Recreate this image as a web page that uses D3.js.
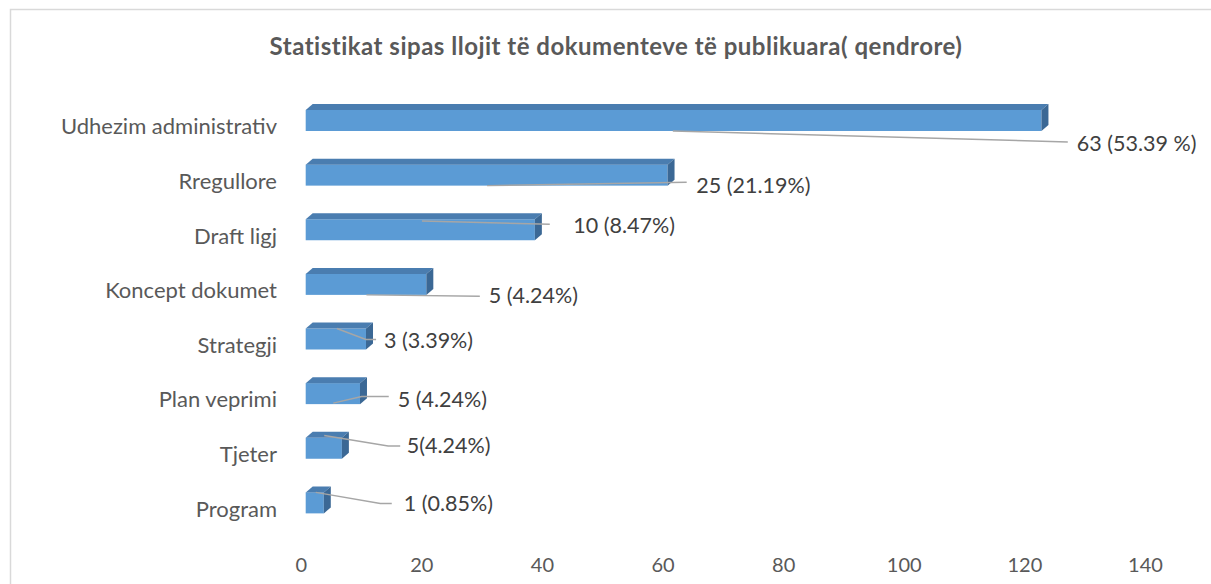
<!DOCTYPE html>
<html>
<head>
<meta charset="utf-8">
<script src="https://cdn.jsdelivr.net/npm/d3@7"></script>
<style>
  body { margin: 0; background: #fff; }
  svg { display: block; font-family: Lato, "Open Sans", sans-serif; }
</style>
</head>
<body>
<div class="chart"></div>
<script>
// categories top to bottom
const categories = ['Udhezim administrativ', 'Rregullore', 'Draft ligj', 'Koncept dokumet',
  'Strategji', 'Plan veprimi', 'Tjeter', 'Program'];
// bar lengths as drawn on the axis
const values = [122, 60, 38, 20, 10, 9, 6, 3];
// data label texts (as typed in the source chart)
const labels = ['63 (53.39 %)', '25 (21.19%)', '10 (8.47%)', '5 (4.24%)',
  '3 (3.39%)', '5 (4.24%)', '5(4.24%)', '1 (0.85%)'];
const ticks = [0, 20, 40, 60, 80, 100, 120, 140];

// where each dragged label sits: x in axis units, y in px below the bar's front top
const labelLayout = [
  { ax: 61.7, ay: 21, bx: 127.2, by: 32, cx: 127.2, tx: 128.7, ty: 33 },
  { ax: 30.9, ay: 21, bx: 64.0, by: 17.7, cx: 64.0, tx: 65.6, ty: 21 },
  { ax: 20.1, ay: 1.7, bx: 41.3, by: 5, cx: 41.3, tx: 45.2, ty: 6 },
  { ax: 10.9, ay: 21, bx: 29.7, by: 22.3, cx: 29.7, tx: 31.2, ty: 22 },
  { ax: 6.0, ay: 0, bx: 10.8, by: 11, cx: 12.5, tx: 13.8, ty: 12 },
  { ax: 5.4, ay: 20, bx: 10.1, by: 13.3, cx: 14.6, tx: 16.1, ty: 16 },
  { ax: 3.9, ay: -2.3, bx: 14.5, by: 8.3, cx: 16.5, tx: 17.6, ty: 8 },
  { ax: 2.5, ay: 0, bx: 13.2, by: 11, cx: 15.1, tx: 17.1, ty: 11 }
];

const W = 1211, H = 584;
const depthX = 7, depthY = 6, barH = 21;

const svg = d3.select('.chart').append('svg')
  .attr('width', W)
  .attr('height', H);

// chart frame (top and left edges visible)
svg.append('path')
  .attr('d', `M10.5,${H} V9.5 H${W}`)
  .style('fill', 'none')
  .style('stroke', '#d9d9d9')
  .style('stroke-width', 1.5);

svg.append('text')
  .attr('x', 616)
  .attr('y', 55)
  .attr('text-anchor', 'middle')
  .style('font-weight', 'bold')
  .style('font-size', '24px')
  .style('letter-spacing', '0.5px')
  .style('fill', '#595959')
  .text('Statistikat sipas llojit të dokumenteve të publikuara( qendrore)');

const x = d3.scaleLinear().domain([0, 140]).range([300.7, 1145]);
const y = d3.scaleBand().domain(categories).range([97, 534]);

// x axis labels only, no line
const xAxis = svg.append('g')
  .attr('transform', 'translate(0,558)')
  .call(d3.axisBottom(x).tickValues(ticks).tickSize(0).tickPadding(0));
xAxis.select('.domain').remove();
xAxis.selectAll('text')
  .attr('dy', '0.71em')
  .style('font-family', 'Lato, "Open Sans", sans-serif')
  .style('font-size', '20px')
  .style('fill', '#595959');

// y axis category labels
const yAxis = svg.append('g')
  .attr('transform', 'translate(277,3)')
  .call(d3.axisLeft(y).tickSize(0).tickPadding(0));
yAxis.select('.domain').remove();
yAxis.selectAll('text')
  .style('font-family', 'Lato, "Open Sans", sans-serif')
  .style('font-size', '22px')
  .style('fill', '#595959');

const rows = categories.map((c, i) => ({ c, v: values[i], label: labels[i], lay: labelLayout[i] }));

const bars = svg.append('g').selectAll('g')
  .data(rows)
  .join('g');

const bx0 = d => x(0) + 5;
const bx1 = d => x(d.v) + 5;
const frontTop = d => y(d.c) + 13;

// front face
bars.append('rect')
  .attr('x', bx0)
  .attr('y', frontTop)
  .attr('width', d => bx1(d) - bx0(d))
  .attr('height', barH)
  .style('fill', '#5b9bd5');

// top face
bars.append('path')
  .attr('d', d => `M${bx0(d)},${frontTop(d)} L${bx0(d) + depthX},${frontTop(d) - depthY} L${bx1(d) + depthX},${frontTop(d) - depthY} L${bx1(d)},${frontTop(d)} Z`)
  .style('fill', '#4a7db0');

// side face
bars.append('path')
  .attr('d', d => `M${bx1(d)},${frontTop(d)} L${bx1(d) + depthX},${frontTop(d) - depthY} L${bx1(d) + depthX},${frontTop(d) + barH - depthY} L${bx1(d)},${frontTop(d) + barH} Z`)
  .style('fill', '#3b6895');

// leader lines
bars.append('polyline')
  .attr('points', d => {
    const t = frontTop(d), l = d.lay;
    return [[x(l.ax), t + l.ay], [x(l.bx), t + l.by], [x(l.cx), t + l.by]].join(' ');
  })
  .style('fill', 'none')
  .style('stroke', '#a6a6a6')
  .style('stroke-width', 1.5);

bars.append('text')
  .attr('x', d => x(d.lay.tx))
  .attr('y', d => frontTop(d) + d.lay.ty)
  .attr('dy', '0.35em')
  .style('font-size', '21.5px')
  .style('fill', '#404040')
  .text(d => d.label);
</script>
</body>
</html>
